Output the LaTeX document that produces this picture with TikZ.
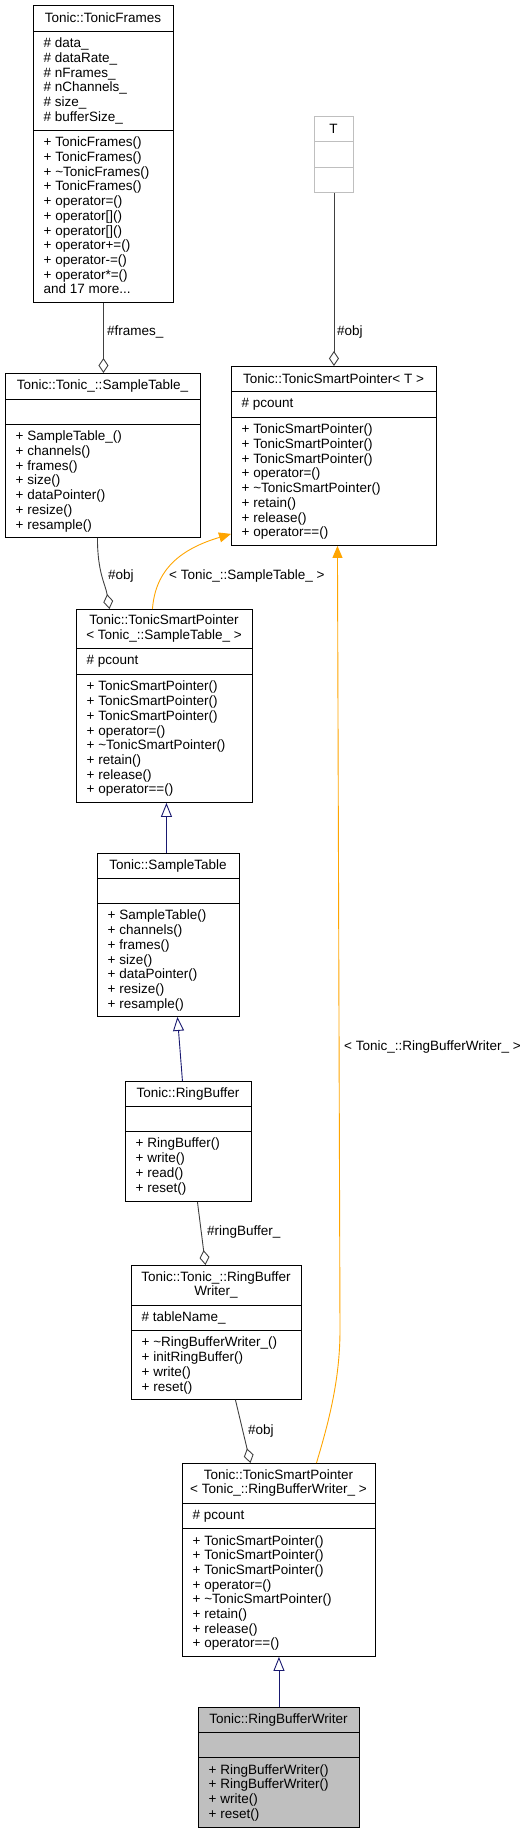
\documentclass[tikz,border=0pt]{standalone}
\usepackage{fontspec}
\setmainfont{Liberation Sans}
\usetikzlibrary{arrows.meta}
\definecolor{edgegray}{HTML}{404040}
\definecolor{inhblue}{HTML}{191970}
\definecolor{tmplorange}{HTML}{FFA500}
\definecolor{fillgray}{HTML}{BFBFBF}
\newcommand{\umlframe}[9]{%
  \node[#8, minimum width={#4pt-#2pt}, minimum height={#7pt-#3pt}] (#1) at (#2,#3) {};
  \draw[line width=0.9pt, draw=#9] (#2,#5) -- (#4,#5) (#2,#6) -- (#4,#6);
}
\begin{document}
\begin{tikzpicture}[x=1pt,y=-1pt,
  every node/.style={font=\fontsize{13.5}{14.67}\selectfont, inner sep=0pt},
  cls/.style={draw=black, line width=0.9pt, fill=white, anchor=north west},
  clsT/.style={cls, draw=fillgray},
  clsmain/.style={cls, fill=fillgray},
  ttl/.style={align=center, anchor=center},
  mem/.style={align=left, anchor=north west},
  lbl/.style={anchor=west},
  agg/.style={draw=edgegray, line width=0.9pt, -{Diamond[open,length=15pt,width=10pt]}},
  inh/.style={draw=inhblue, line width=0.9pt, -{Triangle[open,length=14pt,width=11pt]}},
  tmpl/.style={draw=tmplorange, line width=0.9pt, -{Triangle[length=12pt,width=10pt,fill=tmplorange]}}]
\useasboundingbox (0,0) rectangle (520,1833);

% Tonic::TonicFrames
\umlframe{tf}{33}{5}{173}{31}{130}{302}{cls}{black}
\node[ttl] (tf-t) at (103,18) {Tonic::TonicFrames};
\node[mem] (tf-a) at (43.5,38) {\# data\_\\\# dataRate\_\\\# nFrames\_\\\# nChannels\_\\\# size\_\\\# bufferSize\_};
\node[mem] (tf-m) at (43.5,137) {+ TonicFrames()\\+ TonicFrames()\\+ \textasciitilde TonicFrames()\\+ TonicFrames()\\+ operator=()\\+ operator[]()\\+ operator[]()\\+ operator+=()\\+ operator-=()\\+ operator*=()\\and 17 more...};

% Tonic::Tonic_::SampleTable_
\umlframe{stu}{5}{373}{200}{399}{424}{537}{cls}{black}
\node[ttl] (stu-t) at (102.5,386) {Tonic::Tonic\_::SampleTable\_};
\node[mem] (stu-m) at (15.5,431) {+ SampleTable\_()\\+ channels()\\+ frames()\\+ size()\\+ dataPointer()\\+ resize()\\+ resample()};

% T
\umlframe{Tb}{314}{116}{353}{141}{167}{192}{clsT}{fillgray}
\node[ttl] (Tb-t) at (333.5,128.5) {T};

% Tonic::TonicSmartPointer< T >
\umlframe{spT}{231}{366}{436}{391}{417}{545}{cls}{black}
\node[ttl] (spT-t) at (333.5,378.5) {Tonic::TonicSmartPointer< T >};
\node[mem] (spT-a) at (241.5,398) {\# pcount};
\node[mem] (spT-m) at (241.5,424) {+ TonicSmartPointer()\\+ TonicSmartPointer()\\+ TonicSmartPointer()\\+ operator=()\\+ \textasciitilde TonicSmartPointer()\\+ retain()\\+ release()\\+ operator==()};

% Tonic::TonicSmartPointer< Tonic_::SampleTable_ >
\umlframe{spS}{76}{609}{252}{648}{674}{802}{cls}{black}
\node[ttl] (spS-t) at (164,628.5) {Tonic::TonicSmartPointer\\< Tonic\_::SampleTable\_ >};
\node[mem] (spS-a) at (86.5,655) {\# pcount};
\node[mem] (spS-m) at (86.5,681) {+ TonicSmartPointer()\\+ TonicSmartPointer()\\+ TonicSmartPointer()\\+ operator=()\\+ \textasciitilde TonicSmartPointer()\\+ retain()\\+ release()\\+ operator==()};

% Tonic::SampleTable
\umlframe{stb}{97}{853}{239}{878}{903}{1016}{cls}{black}
\node[ttl] (stb-t) at (168,865.5) {Tonic::SampleTable};
\node[mem] (stb-m) at (107.5,910) {+ SampleTable()\\+ channels()\\+ frames()\\+ size()\\+ dataPointer()\\+ resize()\\+ resample()};

% Tonic::RingBuffer
\umlframe{rb}{125}{1081}{251}{1106}{1131}{1201}{cls}{black}
\node[ttl] (rb-t) at (188,1093.5) {Tonic::RingBuffer};
\node[mem] (rb-m) at (135.5,1138) {+ RingBuffer()\\+ write()\\+ read()\\+ reset()};

% Tonic::Tonic_::RingBufferWriter_
\umlframe{rbwu}{131}{1265}{301}{1305}{1330}{1399}{cls}{black}
\node[ttl] (rbwu-t) at (216,1285) {Tonic::Tonic\_::RingBuffer\\Writer\_};
\node[mem] (rbwu-a) at (141.5,1312) {\# tableName\_};
\node[mem] (rbwu-m) at (141.5,1337) {+ \textasciitilde RingBufferWriter\_()\\+ initRingBuffer()\\+ write()\\+ reset()};

% Tonic::TonicSmartPointer< Tonic_::RingBufferWriter_ >
\umlframe{spR}{182}{1463}{375}{1503}{1528}{1656}{cls}{black}
\node[ttl] (spR-t) at (278.5,1483) {Tonic::TonicSmartPointer\\< Tonic\_::RingBufferWriter\_ >};
\node[mem] (spR-a) at (192.5,1510) {\# pcount};
\node[mem] (spR-m) at (192.5,1535) {+ TonicSmartPointer()\\+ TonicSmartPointer()\\+ TonicSmartPointer()\\+ operator=()\\+ \textasciitilde TonicSmartPointer()\\+ retain()\\+ release()\\+ operator==()};

% Tonic::RingBufferWriter
\umlframe{rbw}{198}{1707}{359}{1732}{1757}{1827}{clsmain}{black}
\node[ttl] (rbw-t) at (278.5,1719.5) {Tonic::RingBufferWriter};
\node[mem] (rbw-m) at (208.5,1764) {+ RingBufferWriter()\\+ RingBufferWriter()\\+ write()\\+ reset()};

% connectors
\draw[agg] (tf.south) -- (tf.south |- stu.north);
\node[lbl] (l1) at (107,332) {\#frames\_};

\draw[agg] (Tb.south) -- (Tb.south |- spT.north);
\node[lbl] (l2) at (337,332) {\#obj};

\draw[agg] ([xshift=-5.5pt]stu.south) .. controls +(0,35) and +(-4,-25) .. ([xshift=-55pt]spS.north);
\node[lbl] (l3) at (108,576) {\#obj};

\draw[tmpl] ([xshift=-12pt]spS.north) .. controls +(3,-40) and +(-50,15) .. ([yshift=12pt]spT.south west);
\node[lbl] (l4) at (169,576) {< Tonic\_::SampleTable\_ >};

\draw[inh] ([xshift=-2pt]stb.north) -- ([xshift=2pt]spS.south);
\draw[inh] ([xshift=-6pt]rb.north) -- ([xshift=9pt]stb.south);

\draw[agg] ([xshift=9pt]rb.south) -- ([xshift=-11pt]rbwu.north);
\node[lbl] (l5) at (207,1232) {\#ringBuffer\_};

\draw[agg] ([xshift=19pt]rbwu.south) -- ([xshift=-28.5pt]spR.north);
\node[lbl] (l6) at (248,1431) {\#obj};

\coordinate (bend) at (340,1330);
\draw[tmpl] ([xshift=37.5pt]spR.north) .. controls +(12,-40) and +(0,50) .. (bend) -- ([xshift=3.5pt]spT.south);
\node[lbl] (l7) at (344,1047) {< Tonic\_::RingBufferWriter\_ >};

\draw[inh] (rbw.north) -- (spR.south);
\end{tikzpicture}
\end{document}
